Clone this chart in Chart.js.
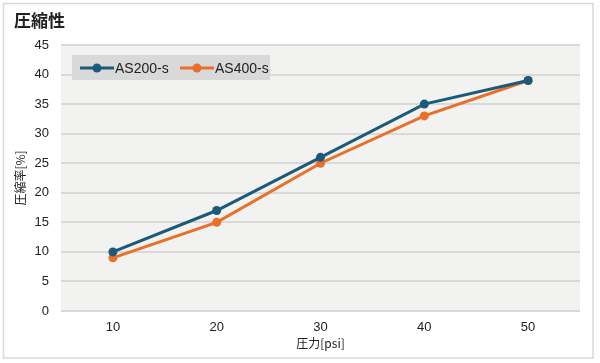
<!DOCTYPE html>
<html><head><meta charset="utf-8">
<script src="https://cdn.jsdelivr.net/npm/chart.js@4"></script>
<style>html,body{margin:0;padding:0;background:#fff}#wrap{width:600px;height:363px;position:relative}</style>
</head><body><div id="wrap"><canvas id="c" width="600" height="363"></canvas></div>
<script>
const categories = ['10','20','30','40','50'];
const seriesNames = ['AS200-s','AS400-s'];
const as200 = [10,17,26,35,39];
const as400 = [9,15,25,33,39];
const yTicks = [0,5,10,15,20,25,30,35,40,45];
const chartTitle = '圧縮性';
const yTitle = '圧縮率[%]';
const xTitle = '圧力[psi]';
const colors = ['#1b5a7a','#e8702a'];
const JP = '"Noto Sans CJK JP", "Liberation Sans", sans-serif';
const LAT = '"Liberation Sans", Arial, sans-serif';

const deco = {
  id:'deco',
  beforeDraw(chart){
    const ctx=chart.ctx, a=chart.chartArea;
    ctx.save();
    ctx.fillStyle='#fff'; ctx.fillRect(0,0,600,363);
    ctx.strokeStyle='#d9d9d9'; ctx.lineWidth=1.5;
    ctx.strokeRect(3.5,3.5,589.5,354.5);
    ctx.fillStyle='#f2f2f0';
    ctx.fillRect(a.left,a.top-1,a.right-a.left,a.bottom-a.top+1);
    ctx.restore();
  },
  afterDraw(chart){
    const ctx=chart.ctx, a=chart.chartArea;
    ctx.save();
    ctx.fillStyle='#222';
    ctx.font='bold 17px '+JP; ctx.textBaseline='middle'; ctx.textAlign='left';
    ctx.fillText(chartTitle,14,21);
    ctx.font='12px '+JP; ctx.textAlign='center';
    ctx.fillText(xTitle,(a.left+a.right)/2,343);
    ctx.translate(20,(a.top+a.bottom)/2); ctx.rotate(-Math.PI/2);
    ctx.fillText(yTitle,0,0);
    ctx.restore();
    // legend
    ctx.save();
    ctx.fillStyle='#d9d9d9'; ctx.fillRect(72,55,198,25);
    const xs=[80,180];
    chart.data.datasets.forEach((d,i)=>{
      const x=xs[i], y=68;
      ctx.strokeStyle=d.borderColor; ctx.lineWidth=3;
      ctx.beginPath(); ctx.moveTo(x,y); ctx.lineTo(x+34,y); ctx.stroke();
      ctx.fillStyle=d.borderColor; ctx.beginPath(); ctx.arc(x+17,y,4.5,0,Math.PI*2); ctx.fill();
      ctx.fillStyle='#222'; ctx.font='14px '+LAT; ctx.textAlign='left'; ctx.textBaseline='middle';
      ctx.fillText(d.label,x+35,y+1);
    });
    ctx.restore();
  }
};

new Chart(document.getElementById('c'),{
  type:'line',
  data:{labels:categories,datasets:[
    {label:seriesNames[0],data:as200,borderColor:colors[0],backgroundColor:colors[0],borderWidth:3,pointRadius:4.5,pointBackgroundColor:colors[0],pointBorderWidth:0,tension:0},
    {label:seriesNames[1],data:as400,borderColor:colors[1],backgroundColor:colors[1],borderWidth:3,pointRadius:4.5,pointBackgroundColor:colors[1],pointBorderWidth:0,tension:0}
  ]},
  options:{
    responsive:false,animation:false,
    layout:{padding:{left:0,top:45,right:20,bottom:0}},
    plugins:{legend:{display:false},tooltip:{enabled:false},title:{display:false}},
    scales:{
      x:{offset:true,grid:{display:false},border:{display:false},
        ticks:{color:'#222',font:{family:LAT,size:13},padding:1},
        afterFit(s){s.height=52;}},
      y:{min:0,max:45,afterBuildTicks(s){s.ticks=yTicks.map(v=>({value:v}));},
        grid:{color:'#d9d9d9',lineWidth:2,drawTicks:false},border:{display:false},
        ticks:{color:'#222',font:{family:LAT,size:13},padding:12},
        afterFit(s){s.width=61;}}
    }
  },
  plugins:[deco]
});
</script></body></html>
